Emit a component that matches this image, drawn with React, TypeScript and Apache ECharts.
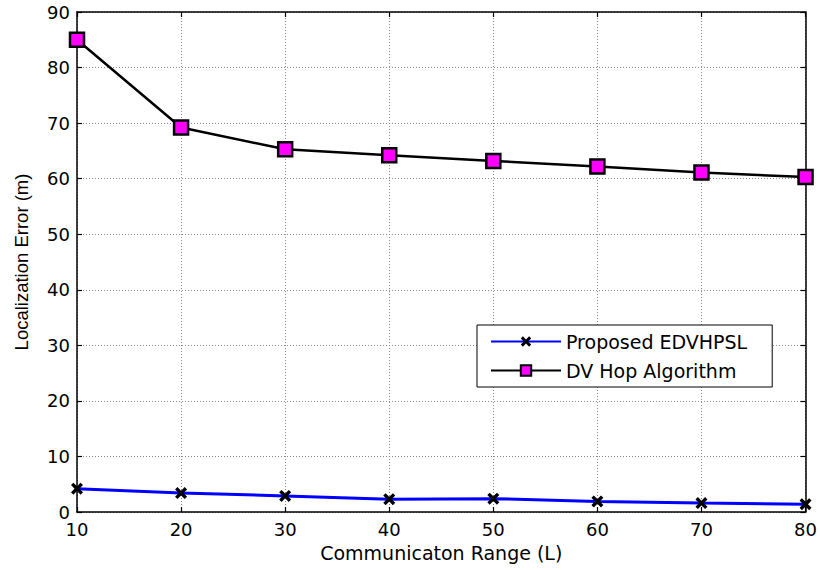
import React, { useEffect, useRef } from "react";
import * as echarts from "echarts";

const ranges = [10, 20, 30, 40, 50, 60, 70, 80];
const proposedEDVHPSL = [4.2, 3.4, 2.9, 2.3, 2.4, 1.9, 1.6, 1.4];
const dvHop = [85, 69.2, 65.3, 64.2, 63.2, 62.2, 61.1, 60.3];
const seriesNames = ["Proposed EDVHPSL", "DV Hop Algorithm"];
const xTitle = "Communicaton Range (L)";
const yTitle = "Localization Error (m)";

const crossPath =
  "path://M0,2 L2,0 L5,3 L8,0 L10,2 L7,5 L10,8 L8,10 L5,7 L2,10 L0,8 L3,5 Z";

export default function App() {
  const ref = useRef<HTMLDivElement>(null);
  useEffect(() => {
    if (!ref.current) return;
    const chart = echarts.init(ref.current, null, { renderer: "svg" });
    const font = "DejaVu Sans";
    const gridLine = { show: true, lineStyle: { color: "#8a8a8a", type: [1, 2], width: 1 } };
    const axisLine = { show: true, onZero: false, lineStyle: { color: "#000", width: 1.5 } };
    const tick = { show: true, inside: true, length: 5, lineStyle: { color: "#000", width: 1.2 } };
    chart.setOption({
      animation: false,
      backgroundColor: "#fff",
      grid: { left: 77, right: 11, top: 12, bottom: 58, containLabel: false },
      xAxis: [
        {
          type: "value",
          min: 10,
          max: 80,
          interval: 10,
          position: "bottom",
          axisLine,
          axisTick: tick,
          splitLine: gridLine,
          axisLabel: { color: "#000", fontFamily: font, fontSize: 18, margin: 8 },
          name: xTitle,
          nameLocation: "middle",
          nameGap: 31,
          nameTextStyle: { color: "#000", fontFamily: font, fontSize: 19 },
        },
        {
          type: "value",
          min: 10,
          max: 80,
          interval: 10,
          position: "top",
          axisLine,
          axisTick: tick,
          splitLine: { show: false },
          axisLabel: { show: false },
        },
      ],
      yAxis: [
        {
          type: "value",
          min: 0,
          max: 90,
          interval: 10,
          position: "left",
          axisLine,
          axisTick: tick,
          splitLine: gridLine,
          axisLabel: { color: "#000", fontFamily: font, fontSize: 18, margin: 7 },
          name: yTitle,
          nameLocation: "middle",
          nameGap: 46,
          nameTextStyle: { color: "#000", fontFamily: "Liberation Sans", fontSize: 18.5 },
        },
        {
          type: "value",
          min: 0,
          max: 90,
          interval: 10,
          position: "right",
          axisLine,
          axisTick: tick,
          splitLine: { show: false },
          axisLabel: { show: false },
        },
      ],
      legend: {
        left: 477,
        top: 325,
        orient: "vertical",
        backgroundColor: "#fff",
        borderColor: "#000",
        borderWidth: 1,
        padding: [7, 25, 7, 13],
        itemWidth: 70,
        itemHeight: 13,
        itemGap: 10,
        textStyle: { color: "#000", fontFamily: font, fontSize: 19 },
        data: seriesNames,
      },
      series: [
        {
          name: seriesNames[0],
          type: "line",
          data: ranges.map((x, i) => [x, proposedEDVHPSL[i]]),
          symbol: crossPath,
          symbolSize: 12,
          lineStyle: { color: "#0000ff", width: 3 },
          itemStyle: { color: "#000", borderWidth: 0 },
          z: 3,
        },
        {
          name: seriesNames[1],
          type: "line",
          data: ranges.map((x, i) => [x, dvHop[i]]),
          symbol: "rect",
          symbolSize: 14,
          lineStyle: { color: "#000", width: 2.5 },
          itemStyle: { color: "#ff00ff", borderColor: "#000", borderWidth: 2.5 },
          z: 3,
        },
      ],
    });
    return () => chart.dispose();
  }, []);
  return (
    <div
      ref={ref}
      style={{ position: "fixed", left: 0, top: 0, width: 820, height: 570, background: "#fff" }}
    />
  );
}
